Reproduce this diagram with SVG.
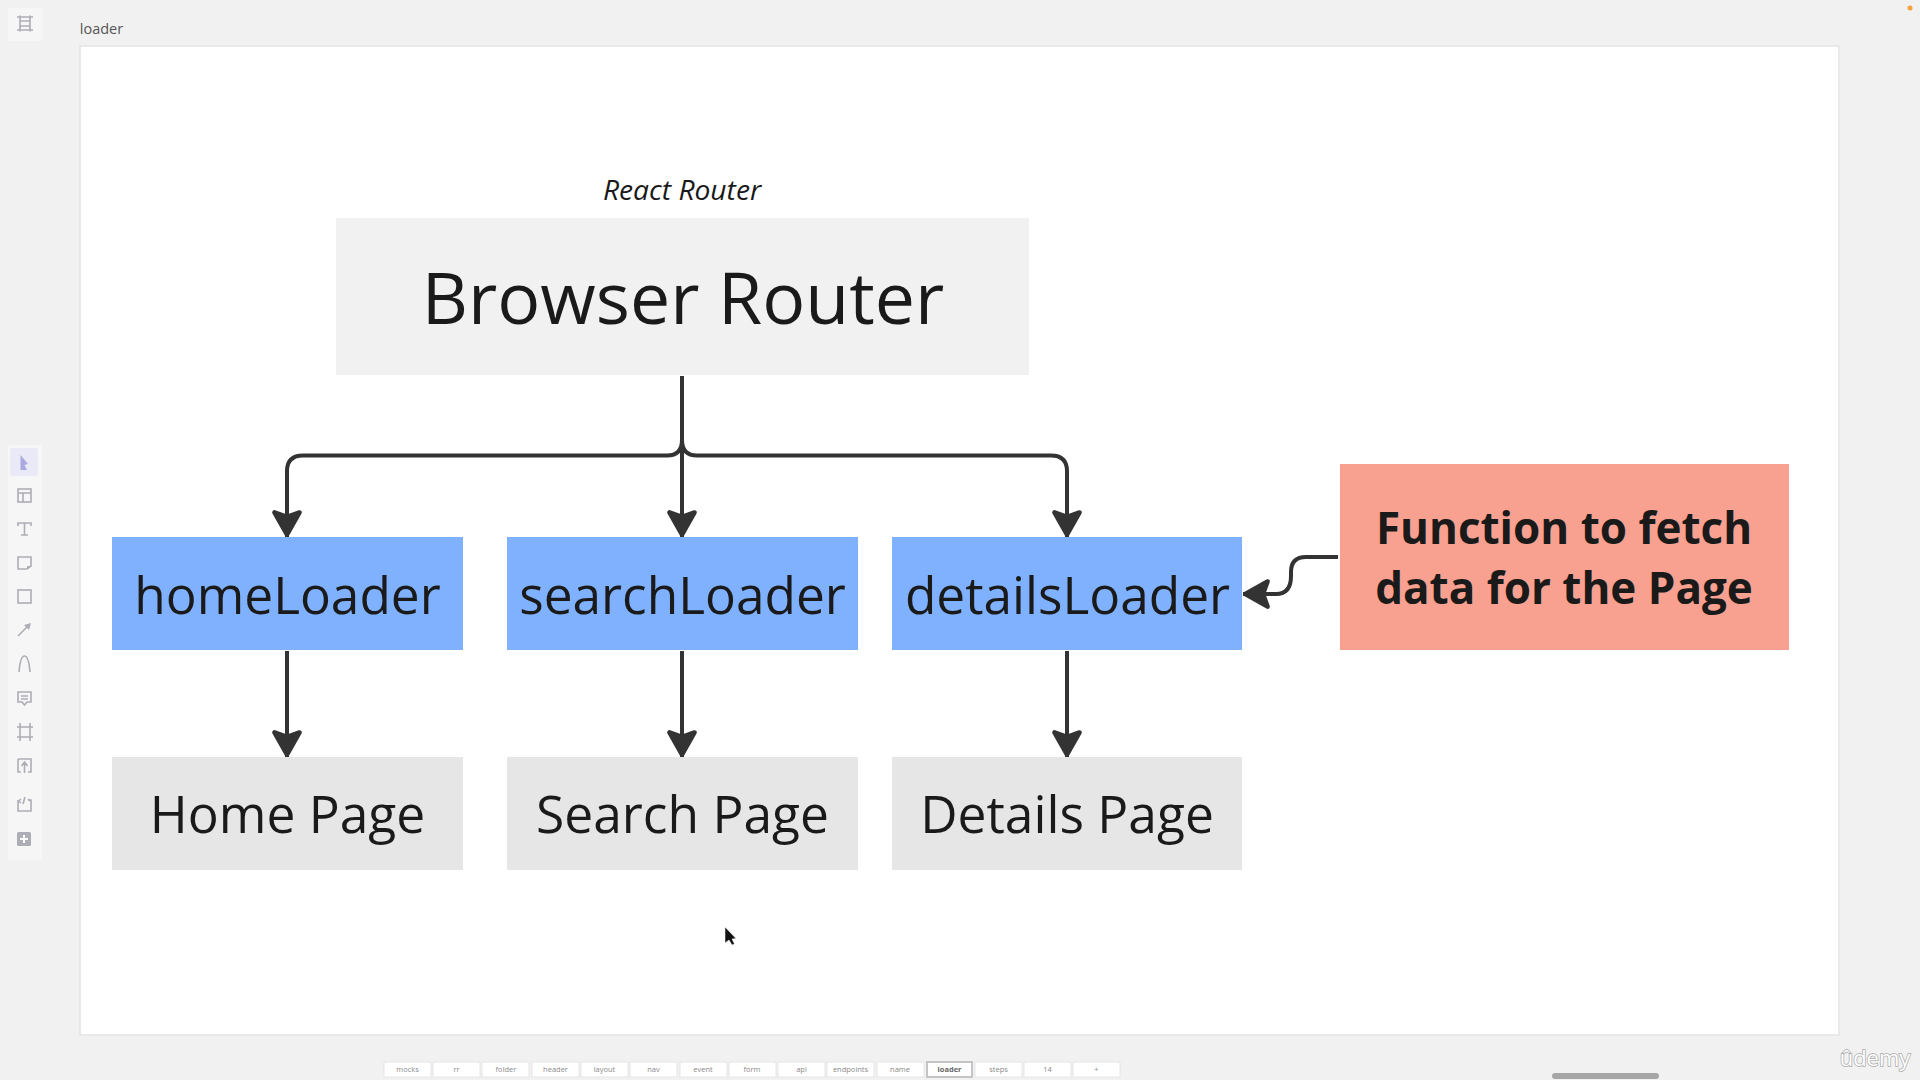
<svg xmlns="http://www.w3.org/2000/svg" width="1920" height="1080" viewBox="0 0 1920 1080">
<style>
text{font-family:"Open Sans","Noto Sans",sans-serif;text-anchor:middle;fill:#1a1a1a}
.c{fill:none;stroke:#333;stroke-width:4;stroke-linejoin:round}
.h{fill:#333;stroke:#333;stroke-width:4;stroke-linejoin:round}
.blue{fill:#80b1ff}.gray{fill:#e6e6e6}
.big{font-size:51.400px}.pg{font-size:51.500px}
.t{fill:#fff;stroke:#e6e6e6;stroke-width:1}
.tt{font-size:7.500px;fill:#8a8a8a}
.i{fill:none;stroke:#adadb5;stroke-width:1.600}
</style>
<defs>
<marker id="a" markerUnits="userSpaceOnUse" markerWidth="32" markerHeight="32" refX="24.500" refY="14" orient="auto" viewBox="0 0 28 28"><path class="h" d="M22.500 14L3 3L7 14L3 25Z"/></marker>
</defs>
<rect width="1920" height="1080" fill="#f1f1f1"/>
<rect x="80" y="46" width="1759" height="989" fill="#fff" stroke="#e4e4e4" stroke-width="1.500"/>
<text x="101.500" y="34" style="font-size:14.500px;fill:#555">loader</text>
<g id="toolbar">
<rect x="8" y="8" width="35" height="33" rx="3" fill="#f6f6f7"/>
<path class="i" d="M17 17H33M17 30H33M20 15.500V31.500M30 15.500V31.500M20 21H30M20 26H30"/>
<rect x="8" y="445" width="34" height="415" rx="3" fill="#f6f6f7"/>
<rect x="10" y="448" width="28" height="28" rx="3" fill="#e9e9f7"/>
<path d="M20.500 455L28 464L24.500 465L27 470L20.500 470Z" fill="#a9a9e0"/>
<rect class="i" x="18" y="489" width="13" height="13"/><path class="i" d="M18 493H31M23 493V502"/>
<path class="i" d="M18 526V523H31V526M24.500 523V535M21 535H28"/>
<path class="i" d="M18 557H31V566L27 569H18Z"/><path d="M31 566L27 569V566Z" fill="#adadb5"/>
<rect class="i" x="18" y="590" width="13" height="13"/>
<path class="i" d="M18 636L29 625"/><path d="M31 623L24 625L29 630Z" fill="#adadb5"/>
<path class="i" d="M19 672C20 660 22 656 24.500 656C27 656 29 660 30 672"/>
<path class="i" d="M18 692H31V702H27L24.500 705L22 702H18ZM21 696H28M21 699H28"/>
<path class="i" d="M17 727H33M17 737H33M20 723V741M30 723V741"/>
<path class="i" d="M18 759H31V772H28M18 759V772H21M24.500 773V763M21.500 766L24.500 762L27.500 766"/>
<path class="i" d="M18 800V811H31V800H28M21 799L18.500 801L21 803M28 799L30 801M23 804L25 797"/>
<rect x="17" y="832" width="14" height="14" rx="1.500" fill="#adadb5"/><path d="M24 835V843M20 839H28" stroke="#fff" stroke-width="2"/>
</g>
<text x="682" y="200" style="font-size:28.200px;font-style:italic">React Router</text>
<g id="connectors">
<path class="c" d="M682 376V537" marker-end="url(#a)"/>
<path class="c" d="M682 376V440Q682 455.500 667 455.500H303Q287 455.500 287 471V537" marker-end="url(#a)"/>
<path class="c" d="M682 376V440Q682 455.500 697 455.500H1051Q1067 455.500 1067 471V537" marker-end="url(#a)"/>
<path class="c" d="M287 651V757" marker-end="url(#a)"/>
<path class="c" d="M682 651V757" marker-end="url(#a)"/>
<path class="c" d="M1067 651V757" marker-end="url(#a)"/>
<path class="c" d="M1338 557H1306Q1291 557 1291 572V576Q1291 594 1276 594H1243" marker-end="url(#a)"/>
</g>
<g id="browser-router"><rect x="336" y="218" width="693" height="157" fill="#f1f1f1"/><text x="683" y="324" style="font-size:71.600px">Browser Router</text></g>
<g id="home-loader"><rect class="blue" x="112" y="537" width="351" height="113"/><text class="big" x="287.500" y="614">homeLoader</text></g>
<g id="search-loader"><rect class="blue" x="507" y="537" width="351" height="113"/><text class="big" x="682.500" y="614">searchLoader</text></g>
<g id="details-loader"><rect class="blue" x="892" y="537" width="350" height="113"/><text class="big" x="1067.500" y="614">detailsLoader</text></g>
<g id="home-page"><rect class="gray" x="112" y="757" width="351" height="113"/><text class="pg" x="287.500" y="833">Home Page</text></g>
<g id="search-page"><rect class="gray" x="507" y="757" width="351" height="113"/><text class="pg" x="682.500" y="833">Search Page</text></g>
<g id="details-page"><rect class="gray" x="892" y="757" width="350" height="113"/><text class="pg" x="1067" y="833">Details Page</text></g>
<g id="function"><rect x="1340" y="464" width="449" height="186" fill="#f9a190"/>
<text x="1564" y="544" style="font-size:44px;font-weight:700">Function to fetch</text>
<text x="1564" y="604" style="font-size:44px;font-weight:700">data for the Page</text></g>
<g id="tabs">
<rect class="t" x="384" y="1062" width="47" height="15"/><text class="tt" x="407.500" y="1072">mocks</text>
<rect class="t" x="433" y="1062" width="47" height="15"/><text class="tt" x="456.500" y="1072">rr</text>
<rect class="t" x="482" y="1062" width="47" height="15"/><text class="tt" x="506" y="1072">folder</text>
<rect class="t" x="532" y="1062" width="47" height="15"/><text class="tt" x="555.500" y="1072">header</text>
<rect class="t" x="581" y="1062" width="47" height="15"/><text class="tt" x="604.500" y="1072">layout</text>
<rect class="t" x="630" y="1062" width="47" height="15"/><text class="tt" x="653.500" y="1072">nav</text>
<rect class="t" x="680" y="1062" width="47" height="15"/><text class="tt" x="703" y="1072">event</text>
<rect class="t" x="729" y="1062" width="47" height="15"/><text class="tt" x="752" y="1072">form</text>
<rect class="t" x="778" y="1062" width="47" height="15"/><text class="tt" x="801.500" y="1072">api</text>
<rect class="t" x="827" y="1062" width="47" height="15"/><text class="tt" x="850.500" y="1072">endpoints</text>
<rect class="t" x="877" y="1062" width="47" height="15"/><text class="tt" x="900" y="1072">name</text>
<rect x="927" y="1062" width="45" height="15" fill="#fff" stroke="#c4c4c4" stroke-width="2"/><text class="tt" x="949.500" y="1072" style="font-weight:700;fill:#666">loader</text>
<rect class="t" x="975" y="1062" width="47" height="15"/><text class="tt" x="998.500" y="1072">steps</text>
<rect class="t" x="1024" y="1062" width="47" height="15"/><text class="tt" x="1047.500" y="1072">14</text>
<rect class="t" x="1073" y="1062" width="47" height="15"/><text class="tt" x="1096.500" y="1072">+</text>
</g>
<rect x="1552" y="1073" width="107" height="6" rx="3" fill="#a6a6a6"/>
<text x="1875" y="1066" style="font-size:22px;fill:#fff;stroke:#aaa;stroke-width:1.500;paint-order:stroke">ûdemy</text>
<circle cx="1910" cy="8" r="2.500" fill="#f5a13c"/>
<path d="M725 927L725 943L729 940L732 945L734.500 944L732 939L736 938.500Z" fill="#111" stroke="#fff" stroke-width=".5"/>
</svg>
